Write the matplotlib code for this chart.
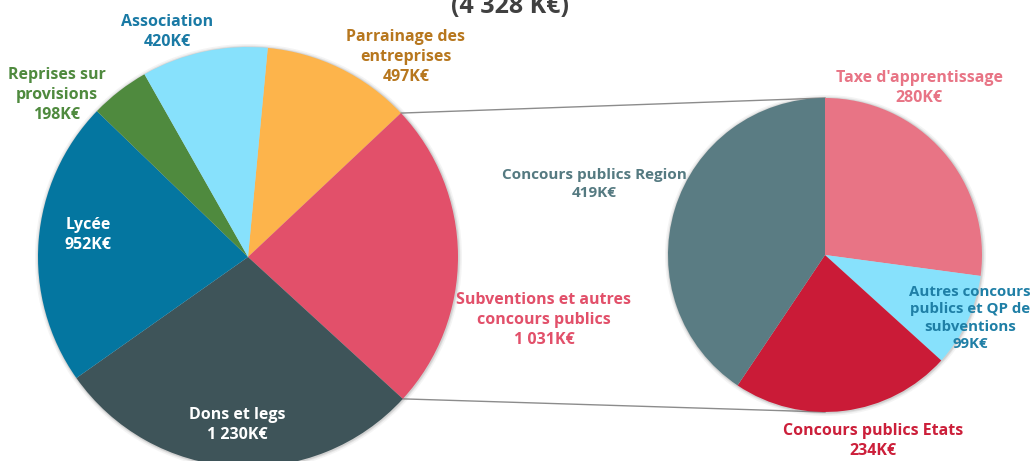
import matplotlib.pyplot as plt
from matplotlib.patches import Circle
import numpy as np

plt.rcParams['font.family'] = ['Open Sans', 'DejaVu Sans']

# main pie, clockwise from the top
main_labels = ['Parrainage des\nentreprises', 'Subventions et autres\nconcours publics',
               'Dons et legs', 'Lycée', 'Reprises sur\nprovisions', 'Association']
main_values = [497, 1031, 1230, 952, 198, 420]
main_texts = ['497K€', '1 031K€', '1 230K€', '952K€', '198K€', '420K€']
main_colors = ['#FDB44B', '#E2506A', '#3E5459', '#0476A0', '#4F8A3E', '#87E1FC']
main_label_colors = ['#B7771E', '#E2506A', 'white', 'white', '#4F8A3E', '#1A7AA5']

# detail of "Subventions et autres concours publics", clockwise from the top
sub_labels = ["Taxe d'apprentissage", 'Autres concours\npublics et QP de\nsubventions',
              'Concours publics Etats', 'Concours publics Region']
sub_values = [280, 99, 234, 419]
sub_texts = ['280K€', '99K€', '234K€', '419K€']
sub_colors = ['#E87485', '#87E1FC', '#CA1B37', '#5A7C83']
sub_label_colors = ['#E87485', '#1F7FA6', '#CC1F3A', '#557A81']

title = '(4 328 K€)'

W, H = 1035, 461
fig = plt.figure(figsize=(W / 100, H / 100), dpi=100)
ax = fig.add_axes([0, 0, 1, 1])

main_c, main_r = (248, H - 257), 210
sub_c, sub_r = (825, H - 255), 157

# soft shadow behind each pie
for (cx, cy), r in [(main_c, main_r), (sub_c, sub_r)]:
    for k, a in [(3.5, 0.08), (2, 0.12), (1, 0.18)]:
        ax.add_patch(Circle((cx + 0.5, cy - 0.5), r + k, color='#777777', alpha=a, lw=0, zorder=0.5))

w1, _ = ax.pie(main_values, colors=main_colors, startangle=84.6, counterclock=False,
               center=main_c, radius=main_r, frame=True,
               wedgeprops=dict(linewidth=0, zorder=1))
w2, _ = ax.pie(sub_values, colors=sub_colors, startangle=90, counterclock=False,
               center=sub_c, radius=sub_r, frame=True,
               wedgeprops=dict(linewidth=0, zorder=1))
ax.set_xlim(0, W)
ax.set_ylim(0, H)
ax.set_aspect('equal')
ax.axis('off')

# connector lines from the Subventions wedge to the detail pie
sw = w1[1]
for ang, target in [(sw.theta2, 90), (sw.theta1, 270)]:
    a = np.deg2rad(ang)
    x0 = main_c[0] + main_r * np.cos(a)
    y0 = main_c[1] + main_r * np.sin(a)
    t = np.deg2rad(target)
    x1 = sub_c[0] + sub_r * np.cos(t)
    y1 = sub_c[1] + sub_r * np.sin(t)
    ax.plot([x0, x1], [y0, y1], color='#8C8C8C', lw=1, zorder=0)

main_pos = [(406, 57), (544, 320), (237, 425), (88, 235), (57, 95), (167, 32)]
sub_pos = [(919, 88), (970, 318), (873, 441), (594, 184)]
sub_sizes = [11.5, 10.8, 11.5, 11]

for lab, txt, col, (x, y) in zip(main_labels, main_texts, main_label_colors, main_pos):
    ax.text(x, H - y, lab + '\n' + txt, color=col, ha='center', va='center',
            fontsize=11.5, fontweight='bold', linespacing=1.3, zorder=3)
for lab, txt, col, (x, y), fs in zip(sub_labels, sub_texts, sub_label_colors, sub_pos, sub_sizes):
    ax.text(x, H - y, lab + '\n' + txt, color=col, ha='center', va='center',
            fontsize=fs, fontweight='bold', linespacing=1.3, zorder=3)

fig.text(510 / W, 1 - 13 / H, title, ha='center', va='baseline', fontsize=18,
         fontweight='bold', color='#404040')

fig.savefig('out.png', dpi=100)
